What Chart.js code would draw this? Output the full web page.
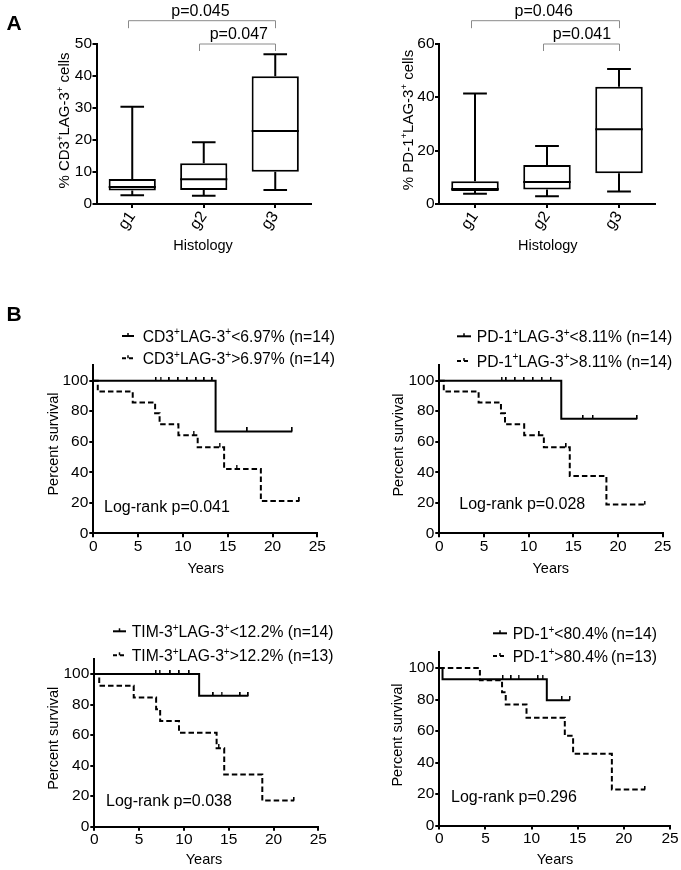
<!DOCTYPE html>
<html>
<head>
<meta charset="utf-8">
<script src="https://cdn.jsdelivr.net/npm/chart.js@4.4.1/dist/chart.umd.min.js"></script>
<style>
html,body{margin:0;padding:0;background:#fff;}
body{width:681px;height:870px;position:relative;overflow:hidden;}
canvas{position:absolute;}
</style>
</head>
<body>
<canvas id="cA1"></canvas>
<canvas id="cA2"></canvas>
<canvas id="cB1"></canvas>
<canvas id="cB2"></canvas>
<canvas id="cB3"></canvas>
<canvas id="cB4"></canvas>
<script>
const FONT = '"Liberation Sans", Arial, Helvetica, sans-serif';

// ---------------- Panel A data (box plots) ----------------
const histologyGroups = ['g1', 'g2', 'g3'];
const cd3LagMin    = [2.7, 2.6, 4.4];
const cd3LagQ1     = [4.2, 4.4, 10.1];
const cd3LagMedian = [5.3, 7.7, 22.8];
const cd3LagQ3     = [7.8, 12.7, 39.9];
const cd3LagMax    = [30.4, 19.3, 46.8];
const pd1LagMin    = [3.8, 2.9, 4.7];
const pd1LagQ1     = [4.9, 5.4, 11.5];
const pd1LagMedian = [5.6, 8.2, 27.9];
const pd1LagQ3     = [8.5, 14.6, 43.8];
const pd1LagMax    = [41.3, 21.7, 50.5];
const cd3Comparisons = [[0, 2], [1, 2]];
const cd3Pvalues     = ['p=0.045', 'p=0.047'];
const pd1Comparisons = [[0, 2], [1, 2]];
const pd1Pvalues     = ['p=0.046', 'p=0.041'];
const cd3Ticks = [0, 10, 20, 30, 40, 50];
const pd1Ticks = [0, 20, 40, 60];

// ---------------- Panel B data (Kaplan-Meier) ----------------
const yearTicks     = [0, 5, 10, 15, 20, 25];
const survivalTicks = [0, 20, 40, 60, 80, 100];

const cd3LowTimes   = [0, 13.65, 22.2];
const cd3LowSurv    = [100, 66.7, 66.7];
const cd3LowCensor  = [7.0, 7.5, 8.5, 9.5, 10.5, 11.5, 12.4, 13.3, 17.2, 22.2];
const cd3HighTimes  = [0, 0.5, 4.4, 6.9, 7.4, 9.5, 11.65, 14.6, 18.7, 23.0];
const cd3HighSurv   = [100, 92.9, 85.7, 78.6, 71.4, 64.3, 56.3, 42.2, 21.1, 21.1];
const cd3HighCensor = [11.2, 14.1, 16.0, 23.0];

const pdLagLowTimes   = [0, 13.65, 22.15];
const pdLagLowSurv    = [100, 75.0, 75.0];
const pdLagLowCensor  = [7.0, 7.5, 8.5, 9.5, 10.5, 11.5, 12.5, 16.1, 17.2, 22.15];
const pdLagHighTimes  = [0, 0.5, 4.4, 6.9, 7.35, 9.5, 11.7, 14.6, 18.7, 23.0];
const pdLagHighSurv   = [100, 92.9, 85.7, 78.6, 71.4, 64.3, 56.3, 37.5, 18.8, 18.8];
const pdLagHighCensor = [11.2, 14.2, 23.0];

const timLowTimes   = [0, 11.7, 17.2];
const timLowSurv    = [100, 85.7, 85.7];
const timLowCensor  = [6.9, 7.3, 8.5, 9.5, 10.6, 13.3, 14.2, 16.3, 17.2];
const timHighTimes  = [0, 0.55, 4.4, 6.9, 7.35, 9.45, 13.65, 14.5, 18.75, 22.3];
const timHighSurv   = [100, 92.3, 84.6, 76.9, 69.2, 61.5, 51.3, 34.2, 17.1, 17.1];
const timHighCensor = [13.9, 22.3];

const pd1LowTimes   = [0, 0.35, 11.65, 14.15];
const pd1LowSurv    = [100, 92.9, 79.6, 79.6];
const pd1LowCensor  = [6.9, 7.8, 8.6, 10.7, 11.2, 13.3, 14.15];
const pd1HighTimes  = [0, 4.4, 6.8, 7.2, 9.45, 13.6, 14.5, 18.7, 22.3];
const pd1HighSurv   = [100, 92.3, 84.6, 76.9, 68.4, 57.0, 45.6, 22.8, 22.8];
const pd1HighCensor = [22.3];

const cd3Legend   = ['CD3^+LAG-3^+<6.97% (n=14)', 'CD3^+LAG-3^+>6.97% (n=14)'];
const pdLagLegend = ['PD-1^+LAG-3^+<8.11% (n=14)', 'PD-1^+LAG-3^+>8.11% (n=14)'];
const timLegend   = ['TIM-3^+LAG-3^+<12.2% (n=14)', 'TIM-3^+LAG-3^+>12.2% (n=13)'];
const pd1Legend   = ['PD-1^+<80.4%\u2009(n=14)', 'PD-1^+>80.4%\u2009(n=13)'];
const logRankLabels = ['Log-rank p=0.041', 'Log-rank p=0.028', 'Log-rank p=0.038', 'Log-rank p=0.296'];

// ---------------- helpers ----------------
Chart.defaults.color = '#000';
Chart.defaults.font.family = FONT;

function parseRich(s) {
  const out = [];
  const segs = s.split('^+');
  segs.forEach((seg, i) => {
    if (seg) out.push({ t: seg });
    if (i < segs.length - 1) out.push({ t: '+', sup: true });
  });
  return out;
}

function drawRich(ctx, it, ox, oy) {
  const size = it.size || 16;
  const supSize = size * 0.64;
  const weight = it.bold ? 'bold ' : '';
  const parts = parseRich(it.text);
  ctx.save();
  ctx.translate(it.x - ox, it.y - oy);
  if (it.rot) ctx.rotate(it.rot * Math.PI / 180);
  ctx.fillStyle = it.color || '#000';
  ctx.textBaseline = 'alphabetic';
  ctx.textAlign = 'left';
  let total = 0;
  const widths = parts.map(p => {
    ctx.font = weight + (p.sup ? supSize : size) + 'px ' + FONT;
    const w = ctx.measureText(p.t).width;
    total += w;
    return w;
  });
  let x = it.align === 'center' ? -total / 2 : (it.align === 'right' ? -total : 0);
  const base = size * 0.358;
  parts.forEach((p, i) => {
    ctx.font = weight + (p.sup ? supSize : size) + 'px ' + FONT;
    ctx.fillText(p.t, x, p.sup ? base - size * 0.4 : base);
    x += widths[i];
  });
  ctx.restore();
}

function setupCanvas(id, rect) {
  const c = document.getElementById(id);
  c.width = rect.w; c.height = rect.h;
  c.style.left = rect.x + 'px'; c.style.top = rect.y + 'px';
  c.style.width = rect.w + 'px'; c.style.height = rect.h + 'px';
  return c;
}

function frame(rect, area) {
  return {
    padding: { left: 0, top: area.t - rect.y, right: rect.x + rect.w - area.r, bottom: 0 },
    yWidth: area.l - rect.x,
    xHeight: rect.y + rect.h - area.b
  };
}

function textPlugin(rect, items) {
  return {
    id: 'richText',
    afterDraw(chart) { items.forEach(it => drawRich(chart.ctx, it, rect.x, rect.y)); }
  };
}

// censor tick: a short vertical mark standing on top of the curve
const censorTick = (() => {
  const c = document.createElement('canvas');
  c.width = 2; c.height = 8;
  const g = c.getContext('2d');
  g.fillStyle = '#000';
  g.fillRect(0, 0, 1.5, 4);
  return c;
})();

const axisGrid = { drawOnChartArea: false, color: '#000', lineWidth: 2, tickLength: 4 };
const axisBorder = { display: true, color: '#000', width: 2 };
const tickFont = { family: FONT, size: 15.5 };

// ---------------- box plot chart ----------------
function boxChart(cfg) {
  const c = setupCanvas(cfg.id, cfg.rect);
  const f = frame(cfg.rect, cfg.area);
  const stats = cfg.stats;
  const whiskerPlugin = {
    id: 'whiskers',
    afterDatasetsDraw(chart) {
      const ctx = chart.ctx, ys = chart.scales.y;
      const meta = chart.getDatasetMeta(0);
      ctx.save();
      ctx.strokeStyle = '#000'; ctx.lineWidth = 2; ctx.lineCap = 'butt';
      meta.data.forEach((bar, i) => {
        const cx = bar.x, half = bar.width / 2, cap = bar.width * 0.25;
        const yMin = ys.getPixelForValue(stats.min[i]);
        const yQ1 = ys.getPixelForValue(stats.q1[i]);
        const yMed = ys.getPixelForValue(stats.median[i]);
        const yQ3 = ys.getPixelForValue(stats.q3[i]);
        const yMax = ys.getPixelForValue(stats.max[i]);
        ctx.beginPath();
        ctx.moveTo(cx, yQ3); ctx.lineTo(cx, yMax);
        ctx.moveTo(cx - cap, yMax); ctx.lineTo(cx + cap, yMax);
        ctx.moveTo(cx, yQ1); ctx.lineTo(cx, yMin);
        ctx.moveTo(cx - cap, yMin); ctx.lineTo(cx + cap, yMin);
        ctx.moveTo(cx - half, yMed); ctx.lineTo(cx + half, yMed);
        ctx.stroke();
      });
      ctx.restore();
    }
  };
  const bracketPlugin = {
    id: 'brackets',
    afterDraw(chart) {
      const ctx = chart.ctx, xs = chart.scales.x;
      ctx.save();
      ctx.strokeStyle = '#8a8a8a'; ctx.lineWidth = 1;
      cfg.comparisons.forEach((pair, k) => {
        const st = cfg.bracketStyle[k];
        const x1 = Math.round(xs.getPixelForValue(pair[0]) - 4.5) + 0.5;
        const x2 = Math.round(xs.getPixelForValue(pair[1])) + 0.5;
        const y = st.y - cfg.rect.y;
        ctx.beginPath();
        ctx.moveTo(x1, y + st.drop); ctx.lineTo(x1, y); ctx.lineTo(x2, y); ctx.lineTo(x2, y + st.drop);
        ctx.stroke();
      });
      ctx.restore();
    }
  };
  return new Chart(c, {
    type: 'bar',
    data: {
      labels: histologyGroups,
      datasets: [{
        data: stats.q1.map((q, i) => [q, stats.q3[i]]),
        backgroundColor: '#fff', borderColor: '#000', borderWidth: 2, borderSkipped: false,
        barPercentage: 0.66, categoryPercentage: 1.0
      }]
    },
    options: {
      responsive: false, maintainAspectRatio: false, animation: false, devicePixelRatio: 1, events: [],
      layout: { padding: f.padding },
      plugins: { legend: { display: false }, tooltip: { enabled: false } },
      scales: {
        x: {
          type: 'category', offset: true,
          grid: Object.assign({}, axisGrid, { offset: false }), border: axisBorder,
          ticks: { font: { family: FONT, size: 16 }, color: '#000', minRotation: 55, maxRotation: 55, autoSkip: false, padding: 0 },
          afterFit: s => { s.height = f.xHeight; }
        },
        y: {
          min: 0, max: cfg.yTicks[cfg.yTicks.length - 1],
          grid: axisGrid, border: axisBorder,
          ticks: { font: tickFont, color: '#000', padding: 0.5 },
          afterBuildTicks: s => { s.ticks = cfg.yTicks.map(v => ({ value: v })); },
          afterFit: s => { s.width = f.yWidth; }
        }
      }
    },
    plugins: [whiskerPlugin, bracketPlugin, textPlugin(cfg.rect, cfg.texts)]
  });
}

// ---------------- Kaplan-Meier chart ----------------
function stepValue(times, surv, t) {
  let v = surv[0];
  for (let i = 0; i < times.length; i++) if (times[i] <= t) v = surv[i];
  return v;
}

function kmChart(cfg) {
  const c = setupCanvas(cfg.id, cfg.rect);
  const f = frame(cfg.rect, cfg.area);
  const datasets = [];
  cfg.curves.forEach(cv => {
    datasets.push({
      data: cv.times.map((t, i) => ({ x: t, y: cv.surv[i] })),
      stepped: 'before', borderColor: '#000', borderWidth: 2, borderDash: cv.dash,
      pointRadius: 0, fill: false, tension: 0, borderCapStyle: 'butt'
    });
    datasets.push({
      data: cv.censor.map(t => ({ x: t, y: stepValue(cv.times, cv.surv, t) })),
      showLine: false, pointStyle: censorTick, rotation: 0, pointRadius: 3,
      pointBorderColor: '#000', borderColor: '#000'
    });
  });
  const legendPlugin = {
    id: 'kmLegend',
    afterDraw(chart) {
      const ctx = chart.ctx;
      ctx.save();
      ctx.strokeStyle = '#000'; ctx.lineWidth = 2;
      cfg.legend.ys.forEach((yy, k) => {
        const y = yy - cfg.rect.y;
        const x1 = cfg.legend.marker[0] - cfg.rect.x, x2 = cfg.legend.marker[1] - cfg.rect.x;
        ctx.setLineDash(cfg.curves[k].dash.length ? [4, 3] : []);
        ctx.beginPath(); ctx.moveTo(x1, y); ctx.lineTo(x2, y); ctx.stroke();
        ctx.setLineDash([]);
        ctx.lineWidth = 1.5;
        const cx = (x1 + x2) / 2;
        ctx.beginPath(); ctx.moveTo(cx, y - 3); ctx.lineTo(cx, y); ctx.stroke();
        ctx.lineWidth = 2;
        drawRich(ctx, { text: cfg.legend.labels[k], x: cfg.legend.textX, y: yy, size: 15.7 }, cfg.rect.x, cfg.rect.y);
      });
      ctx.restore();
    }
  };
  return new Chart(c, {
    type: 'line',
    data: { datasets },
    options: {
      responsive: false, maintainAspectRatio: false, animation: false, devicePixelRatio: 1, events: [],
      layout: { padding: f.padding },
      plugins: { legend: { display: false }, tooltip: { enabled: false } },
      scales: {
        x: {
          type: 'linear', min: 0, max: 25,
          grid: axisGrid, border: axisBorder,
          ticks: { font: tickFont, color: '#000', padding: 0, maxRotation: 0, autoSkip: false },
          afterBuildTicks: s => { s.ticks = yearTicks.map(v => ({ value: v })); },
          afterFit: s => { s.height = f.xHeight; }
        },
        y: {
          type: 'linear', min: 0, max: 110,
          grid: axisGrid, border: axisBorder,
          ticks: { font: tickFont, color: '#000', padding: 1 },
          afterBuildTicks: s => { s.ticks = survivalTicks.map(v => ({ value: v })); },
          afterFit: s => { s.width = f.yWidth; }
        }
      }
    },
    plugins: [legendPlugin, textPlugin(cfg.rect, cfg.texts)]
  });
}

// ---------------- build panels ----------------
boxChart({
  id: 'cA1', rect: { x: 0, y: 0, w: 340, h: 262 }, area: { l: 96.5, r: 311, t: 44, b: 204 },
  stats: { min: cd3LagMin, q1: cd3LagQ1, median: cd3LagMedian, q3: cd3LagQ3, max: cd3LagMax },
  yTicks: cd3Ticks, comparisons: cd3Comparisons,
  bracketStyle: [{ y: 20.7, drop: 7.5 }, { y: 44, drop: 7 }],
  texts: [
    { text: 'A', x: 14, y: 22.5, size: 21, bold: true, align: 'center' },
    { text: cd3Pvalues[0], x: 200.5, y: 10.7, size: 16, align: 'center' },
    { text: cd3Pvalues[1], x: 238.8, y: 33.3, size: 16, align: 'center' },
    { text: '% CD3^+LAG-3^+ cells', x: 63.3, y: 120.5, size: 15, rot: -90, align: 'center' },
    { text: 'Histology', x: 203, y: 245, size: 14.5, align: 'center' }
  ]
});

boxChart({
  id: 'cA2', rect: { x: 340, y: 0, w: 341, h: 262 }, area: { l: 439, r: 655, t: 43.5, b: 204 },
  stats: { min: pd1LagMin, q1: pd1LagQ1, median: pd1LagMedian, q3: pd1LagQ3, max: pd1LagMax },
  yTicks: pd1Ticks, comparisons: pd1Comparisons,
  bracketStyle: [{ y: 20.7, drop: 7.5 }, { y: 44, drop: 7 }],
  texts: [
    { text: pd1Pvalues[0], x: 543.7, y: 10.7, size: 16, align: 'center' },
    { text: pd1Pvalues[1], x: 582, y: 33.3, size: 16, align: 'center' },
    { text: '% PD-1^+LAG-3^+ cells', x: 408, y: 120, size: 15, rot: -90, align: 'center' },
    { text: 'Histology', x: 547.8, y: 245, size: 14.5, align: 'center' }
  ]
});

kmChart({
  id: 'cB1', rect: { x: 0, y: 290, w: 340, h: 295 }, area: { l: 93.3, r: 317.3, t: 365.4, b: 533.3 },
  curves: [
    { times: cd3LowTimes, surv: cd3LowSurv, censor: cd3LowCensor, dash: [] },
    { times: cd3HighTimes, surv: cd3HighSurv, censor: cd3HighCensor, dash: [5.5, 3] }
  ],
  legend: { labels: cd3Legend, marker: [122, 134], textX: 142.7, ys: [336, 358.3] },
  texts: [
    { text: 'B', x: 14, y: 313, size: 21, bold: true, align: 'center' },
    { text: logRankLabels[0], x: 104, y: 506.7, size: 16 },
    { text: 'Percent survival', x: 53, y: 444, size: 14.5, rot: -90, align: 'center' },
    { text: 'Years', x: 205.7, y: 568.3, size: 14.5, align: 'center' }
  ]
});

kmChart({
  id: 'cB2', rect: { x: 340, y: 290, w: 341, h: 295 }, area: { l: 439.3, r: 662.7, t: 365.4, b: 533.3 },
  curves: [
    { times: pdLagLowTimes, surv: pdLagLowSurv, censor: pdLagLowCensor, dash: [] },
    { times: pdLagHighTimes, surv: pdLagHighSurv, censor: pdLagHighCensor, dash: [5.5, 3] }
  ],
  legend: { labels: pdLagLegend, marker: [457, 471], textX: 476.7, ys: [336.3, 361] },
  texts: [
    { text: logRankLabels[1], x: 459.3, y: 503.3, size: 16 },
    { text: 'Percent survival', x: 398.3, y: 445, size: 14.5, rot: -90, align: 'center' },
    { text: 'Years', x: 550.8, y: 568.3, size: 14.5, align: 'center' }
  ]
});

kmChart({
  id: 'cB3', rect: { x: 0, y: 600, w: 340, h: 270 }, area: { l: 94.3, r: 318.3, t: 658.7, b: 826.7 },
  curves: [
    { times: timLowTimes, surv: timLowSurv, censor: timLowCensor, dash: [] },
    { times: timHighTimes, surv: timHighSurv, censor: timHighCensor, dash: [5.5, 3] }
  ],
  legend: { labels: timLegend, marker: [113, 126], textX: 131.7, ys: [631.3, 655.3] },
  texts: [
    { text: logRankLabels[2], x: 106, y: 800, size: 16 },
    { text: 'Percent survival', x: 53.3, y: 738.3, size: 14.5, rot: -90, align: 'center' },
    { text: 'Years', x: 204, y: 859, size: 14.5, align: 'center' }
  ]
});

kmChart({
  id: 'cB4', rect: { x: 340, y: 600, w: 341, h: 270 }, area: { l: 439.3, r: 670, t: 652.3, b: 825.5 },
  curves: [
    { times: pd1LowTimes, surv: pd1LowSurv, censor: pd1LowCensor, dash: [] },
    { times: pd1HighTimes, surv: pd1HighSurv, censor: pd1HighCensor, dash: [5.5, 3] }
  ],
  legend: { labels: pd1Legend, marker: [493, 507], textX: 512.7, ys: [633.3, 656] },
  texts: [
    { text: logRankLabels[3], x: 451, y: 796, size: 16 },
    { text: 'Percent survival', x: 397.3, y: 735, size: 14.5, rot: -90, align: 'center' },
    { text: 'Years', x: 555, y: 859, size: 14.5, align: 'center' }
  ]
});
</script>
</body>
</html>
